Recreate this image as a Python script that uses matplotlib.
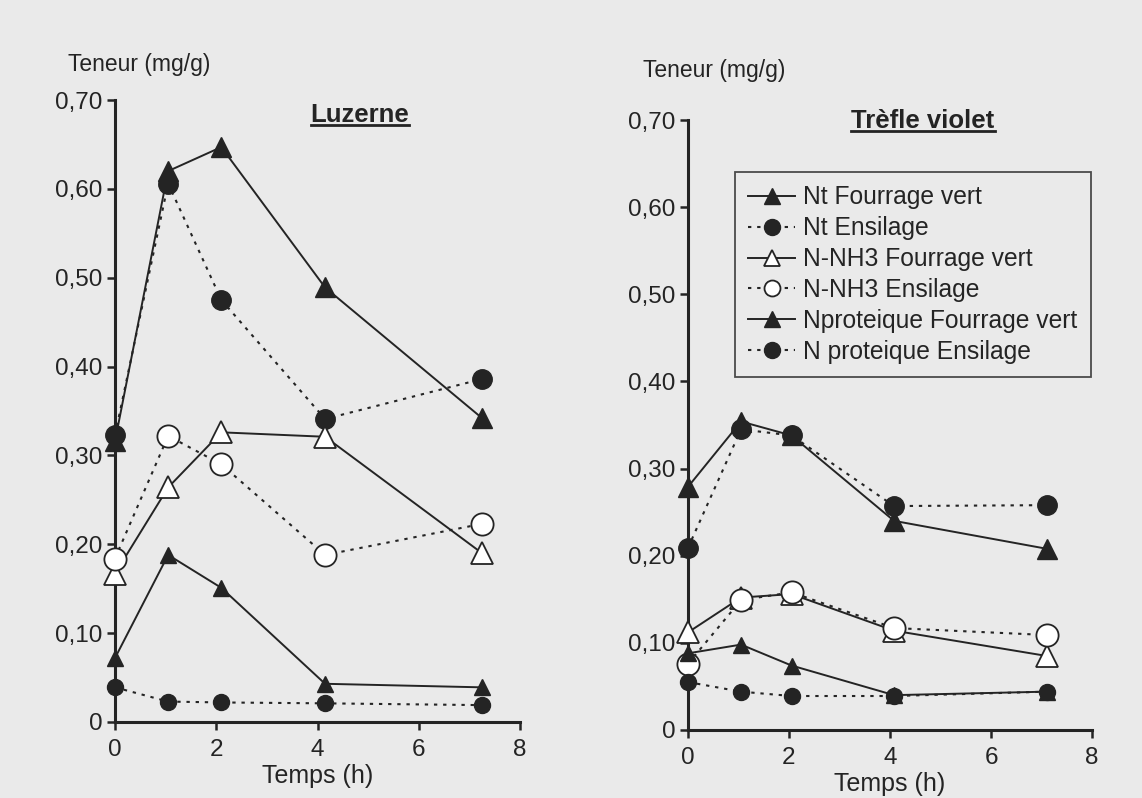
import matplotlib
matplotlib.use('Agg')
import matplotlib.pyplot as plt
from matplotlib.lines import Line2D

plt.rcParams['font.family'] = ['Liberation Sans', 'DejaVu Sans']

# ---------------- data ----------------
time_luzerne = [0, 1.05, 2.1, 4.15, 7.25]
time_trefle = [0, 1.05, 2.05, 4.08, 7.1]

luz_nt_fv = [0.316, 0.620, 0.647, 0.489, 0.342]
luz_nt_ens = [0.323, 0.606, 0.475, 0.341, 0.386]
luz_nh3_fv = [0.167, 0.264, 0.326, 0.321, 0.190]
luz_nh3_ens = [0.184, 0.322, 0.290, 0.188, 0.223]
luz_nprot_fv = [0.072, 0.188, 0.151, 0.043, 0.039]
luz_nprot_ens = [0.039, 0.023, 0.022, 0.021, 0.019]

tre_nt_fv = [0.279, 0.354, 0.338, 0.240, 0.208]
tre_nt_ens = [0.209, 0.345, 0.338, 0.257, 0.258]
tre_nh3_fv = [0.112, 0.152, 0.156, 0.114, 0.085]
tre_nh3_ens = [0.076, 0.149, 0.158, 0.117, 0.109]
tre_nprot_fv = [0.088, 0.098, 0.074, 0.040, 0.044]
tre_nprot_ens = [0.055, 0.044, 0.039, 0.039, 0.044]

series_labels = ["Nt Fourrage vert", "Nt Ensilage", "N-NH3 Fourrage vert",
                 "N-NH3 Ensilage", "Nproteique Fourrage vert", "N proteique Ensilage"]
yticks = [0, 0.10, 0.20, 0.30, 0.40, 0.50, 0.60, 0.70]
ytick_labels = ["0", "0,10", "0,20", "0,30", "0,40", "0,50", "0,60", "0,70"]
xticks = [0, 2, 4, 6, 8]
xtick_labels = ["0", "2", "4", "6", "8"]
ylabel_text = "Teneur (mg/g)"
xlabel_text = "Temps (h)"
titles = ["Luzerne", "Trèfle violet"]

# ---------------- styles ----------------
BG = '#eaeaea'
INK = '#242424'
DOT = (0, (1.6, 2.8))
styles = [
    dict(ls='-', marker='^', ms=15, mfc=INK, mec=INK, lw=1.4),
    dict(ls=DOT, marker='o', ms=14, mfc=INK, mec=INK, lw=1.5),
    dict(ls='-', marker='^', ms=16, mfc='white', mec=INK, mew=1.3, lw=1.4),
    dict(ls=DOT, marker='o', ms=16, mfc='white', mec=INK, mew=1.3, lw=1.5),
    dict(ls='-', marker='^', ms=11, mfc=INK, mec=INK, lw=1.4),
    dict(ls=DOT, marker='o', ms=11.5, mfc=INK, mec=INK, lw=1.5),
]

fig = plt.figure(figsize=(11.42, 7.98), dpi=100, facecolor=BG)
W, H = 1142, 798

ax_l = fig.add_axes([115 / W, 1 - 722 / H, 405 / W, 622 / H])
ax_r = fig.add_axes([688 / W, 1 - 730 / H, 404 / W, 610 / H])

panels = [
    (ax_l, time_luzerne, [luz_nt_fv, luz_nt_ens, luz_nh3_fv, luz_nh3_ens, luz_nprot_fv, luz_nprot_ens]),
    (ax_r, time_trefle, [tre_nt_fv, tre_nt_ens, tre_nh3_fv, tre_nh3_ens, tre_nprot_fv, tre_nprot_ens]),
]

for ax, t, series in panels:
    ax.set_facecolor(BG)
    for vals, st in zip(series, styles):
        ax.plot(t, vals, color=INK, clip_on=False, zorder=3, **st)
    ax.set_xlim(0, 8)
    ax.set_ylim(0, 0.70)
    for s in ['top', 'right']:
        ax.spines[s].set_visible(False)
    for s in ['left', 'bottom']:
        ax.spines[s].set_linewidth(2.2)
        ax.spines[s].set_color(INK)
    ax.set_yticks(yticks)
    ax.set_yticklabels(ytick_labels)
    ax.set_xticks(xticks)
    ax.set_xticklabels(xtick_labels)
    ax.tick_params(axis='both', direction='out', length=6, width=1.8, color=INK,
                   labelsize=17.5, labelcolor=INK)
    ax.tick_params(axis='y', pad=3)
    ax.tick_params(axis='x', pad=6)

# axis labels (free text like the original)
fig.text(68 / W, 1 - 71 / H, ylabel_text, fontsize=16.5, color=INK, ha='left', va='baseline')
fig.text(643 / W, 1 - 77 / H, ylabel_text, fontsize=16.5, color=INK, ha='left', va='baseline')
fig.text(318 / W, 1 - 783 / H, xlabel_text, fontsize=18, color=INK, ha='center', va='baseline')
fig.text(890 / W, 1 - 791 / H, xlabel_text, fontsize=18, color=INK, ha='center', va='baseline')

# panel titles (bold, underlined)
t1 = fig.text(360 / W, 1 - 122 / H, titles[0], fontsize=18.5, fontweight='bold', color=INK,
              ha='center', va='baseline')
t2 = fig.text(923 / W, 1 - 128 / H, titles[1], fontsize=18.5, fontweight='bold', color=INK,
              ha='center', va='baseline')

# legend in the right panel
handles = []
for st in styles:
    d = dict(st)
    d['ms'] = 11.5
    handles.append(Line2D([0], [0], color=INK, **d))
leg = ax_r.legend(handles, series_labels, loc='upper left', bbox_to_anchor=(0.116, 0.915),
                  borderaxespad=0, frameon=True, fancybox=False, fontsize=17.7,
                  handlelength=1.9, handletextpad=0.33, labelspacing=0.28, borderpad=0.55,
                  labelcolor=INK)
leg.get_frame().set_edgecolor(INK)
leg.get_frame().set_linewidth(1.3)
leg.get_frame().set_facecolor(BG)

# underline the titles
fig.canvas.draw()
r = fig.canvas.get_renderer()
for t in (t1, t2):
    bb = t.get_window_extent(r)
    y = (bb.y0 + 2.0) / H
    fig.add_artist(Line2D([bb.x0 / W, bb.x1 / W], [y, y], color=INK, lw=2.0,
                          transform=fig.transFigure))

fig.savefig('out.png', dpi=100, facecolor=BG)
